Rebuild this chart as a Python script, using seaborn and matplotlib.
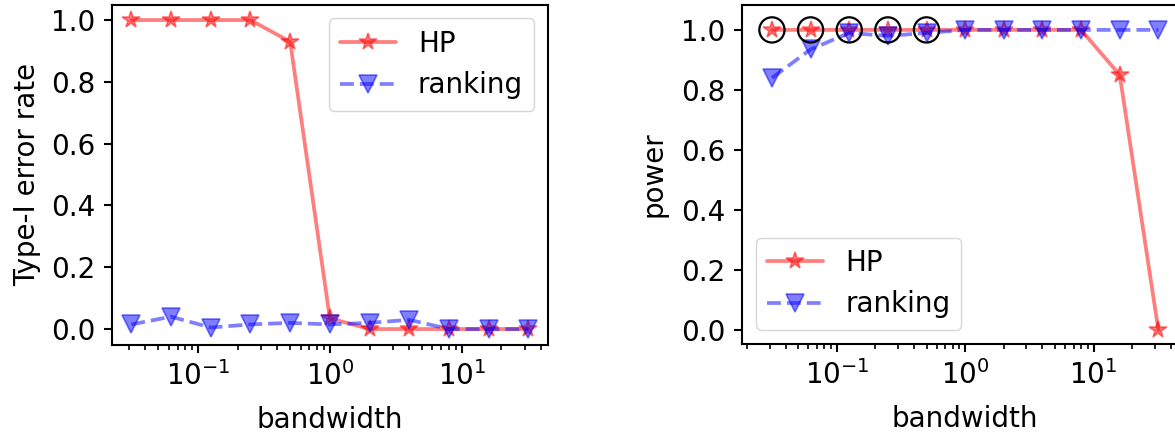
import matplotlib
matplotlib.use("Agg")
import matplotlib.pyplot as plt
import seaborn as sns
import numpy as np

# ---- data ----
bandwidth = [0.03125, 0.0625, 0.125, 0.25, 0.5, 1, 2, 4, 8, 16, 32]
type1_hp = [1.0, 1.0, 1.0, 1.0, 0.93, 0.035, 0.0, 0.0, 0.0, 0.0, 0.0]
type1_ranking = [0.015, 0.04, 0.005, 0.015, 0.02, 0.015, 0.02, 0.03, 0.0, 0.0, 0.0]
power_hp = [1.0, 1.0, 1.0, 1.0, 1.0, 1.0, 1.0, 1.0, 1.0, 0.85, 0.0]
power_ranking = [0.84, 0.935, 0.99, 0.98, 0.99, 1.0, 1.0, 1.0, 1.0, 1.0, 1.0]
circled_x = [0.03125, 0.0625, 0.125, 0.25, 0.5]
circled_y = [1.0, 1.0, 1.0, 1.0, 1.0]

sns.set_style("ticks")
plt.rcParams['font.family'] = ['DejaVu Sans']
FS = 20
plt.rcParams.update({
    'font.size': FS,
    'axes.labelsize': FS,
    'xtick.labelsize': FS,
    'ytick.labelsize': FS,
    'legend.fontsize': FS,
    'axes.linewidth': 1.5,
    'xtick.major.width': 1.5,
    'ytick.major.width': 1.5,
    'xtick.minor.width': 1.2,
    'xtick.major.size': 6,
    'ytick.major.size': 6,
    'xtick.minor.size': 3.5,
    'xtick.major.pad': 6,
    'ytick.major.pad': 6,
    'axes.labelpad': 7,
    'axes.edgecolor': 'black',
    'xtick.color': 'black',
    'ytick.color': 'black',
    'text.color': 'black',
    'axes.labelcolor': 'black',
})

W, H = 1175, 438
fig = plt.figure(figsize=(W / 100, H / 100), dpi=100)
ax1 = fig.add_axes([111.7 / W, (H - 344.5) / H, (548 - 111.7) / W, (344.5 - 4.6) / H])
ax2 = fig.add_axes([742.3 / W, (H - 343.5) / H, (1188 - 742.3) / W, (343.5 - 5) / H])

LW = 2.7
MS = 13

def draw(ax, hp, rk):
    sns.lineplot(x=bandwidth, y=hp, ax=ax, color='r', alpha=0.5, marker='*',
                 markersize=MS, markeredgecolor='r', markeredgewidth=1.2,
                 linewidth=LW, label='HP')
    sns.lineplot(x=bandwidth, y=rk, ax=ax, color='b', alpha=0.5, marker='v',
                 markersize=MS, markeredgecolor='b', markeredgewidth=1.2,
                 linewidth=LW, linestyle='--', label='ranking')
    ax.set_xscale('log')

draw(ax1, type1_hp, type1_ranking)
draw(ax2, power_hp, power_ranking)
ax2.scatter(circled_x, circled_y, s=330, facecolors='none', edgecolors='k',
            linewidths=1.6, zorder=5)

ax1.set_xlim(10 ** -1.654, 10 ** 1.654)
ax1.set_ylim(-0.05, 1.05)
ax2.set_xlim(10 ** -1.736, 10 ** 1.736)
ax2.set_ylim(-0.045, 1.083)

for ax in (ax1, ax2):
    ax.set_yticks([0.0, 0.2, 0.4, 0.6, 0.8, 1.0])
    ax.set_yticklabels(['0.0', '0.2', '0.4', '0.6', '0.8', '1.0'])
    ax.set_xlabel('bandwidth', labelpad=11)
    for s in ax.spines.values():
        s.set_visible(True)

ax1.set_ylabel('Type-I error rate')
ax2.set_ylabel('power', labelpad=10)

ax1.legend(loc='upper right', frameon=True, framealpha=0.8, edgecolor='0.8',
           fancybox=True, numpoints=1, handlelength=2.0)
ax2.legend(loc='lower left', frameon=True, framealpha=0.8, edgecolor='0.8',
           fancybox=True, numpoints=1, handlelength=2.0)

fig.savefig('out.png', dpi=100)
